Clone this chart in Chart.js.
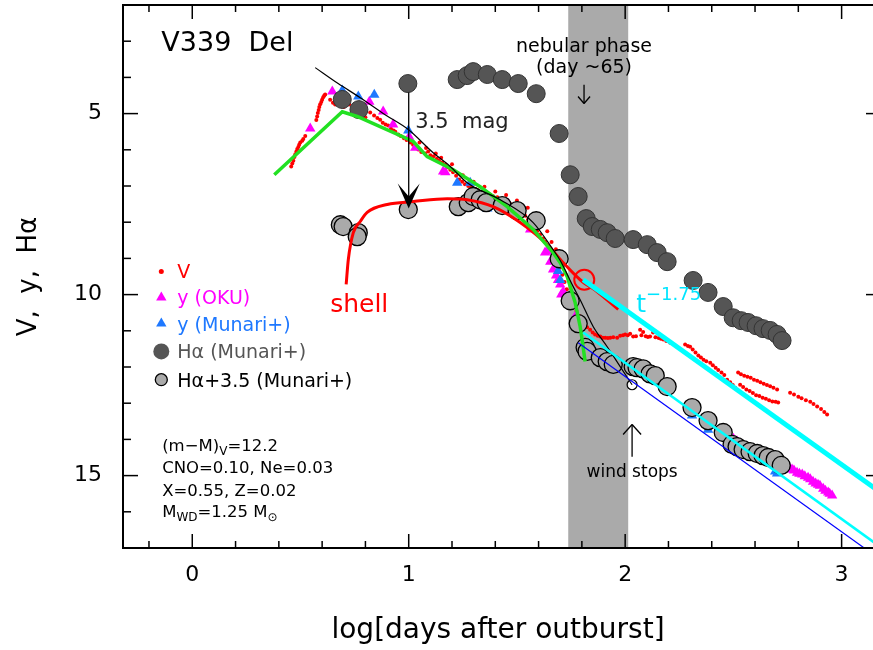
<!DOCTYPE html>
<html>
<head>
    <title>v339-del</title>
    <meta charset="utf-8">
    <script src="https://cdn.jsdelivr.net/npm/chart.js"></script>
    <style>
        body { margin: 0; background: #fff; }
        canvas { display: block; }
    </style>
</head>
<body>
    <canvas id="lc" width="873" height="650"></canvas>

    <script>
        // log t (days) vs. magnitude
        const vBand = [
            [0.457, 6.46], [0.462, 6.38], [0.467, 6.30], [0.472, 6.20], [0.476, 6.12], [0.481, 6.05], [0.485, 5.98],
            [0.490, 5.92], [0.494, 5.86], [0.499, 5.80], [0.508, 5.75], [0.513, 5.70], [0.522, 5.62],
            [0.573, 5.18], [0.577, 5.08], [0.580, 4.98], [0.584, 4.90], [0.587, 4.82], [0.591, 4.74], [0.596, 4.68],
            [0.600, 4.62], [0.605, 4.55], [0.610, 4.50], [0.614, 4.47],
            [0.637, 4.62], [0.650, 4.70], [0.660, 4.75], [0.672, 4.62], [0.690, 4.78], [0.700, 4.82], [0.712, 4.70],
            [0.725, 4.75], [0.740, 4.95], [0.750, 5.05], [0.762, 4.98], [0.775, 4.85], [0.790, 4.92], [0.800, 5.10],
            [0.822, 4.97], [0.840, 5.05], [0.855, 5.12], [0.868, 5.17], [0.880, 5.25], [0.893, 5.30], [0.905, 5.33],
            [0.918, 5.42], [0.930, 5.47], [0.938, 5.50], [0.952, 5.58], [0.963, 5.62], [0.978, 5.68], [0.990, 5.73],
            [1.007, 5.80], [1.020, 5.86], [1.032, 5.92], [1.044, 5.99], [1.058, 6.06], [1.076, 6.10], [1.090, 6.05],
            [1.100, 6.15], [1.115, 6.18], [1.130, 6.25], [1.140, 6.30], [1.155, 6.35], [1.169, 6.41], [1.180, 6.48],
            [1.192, 6.55], [1.205, 6.62], [1.219, 6.72], [1.233, 6.82], [1.247, 6.88], [1.260, 6.95], [1.275, 7.00],
            [1.290, 7.04], [1.307, 7.08], [1.320, 7.12], [1.339, 7.16], [1.355, 7.20], [1.376, 7.25], [1.390, 7.28],
            [1.409, 7.31], [1.420, 7.35], [1.436, 7.38], [1.450, 7.42], [1.469, 7.50], [1.483, 7.55], [1.497, 7.62],
            [1.510, 7.68], [1.524, 7.73], [1.538, 7.82], [1.552, 7.92], [1.566, 8.03], [1.580, 8.14], [1.593, 8.25],
            [1.607, 8.34], [1.620, 8.45], [1.630, 8.54], [1.642, 8.65], [1.654, 8.76], [1.667, 8.92], [1.677, 9.02],
            [1.686, 9.10],
            [1.050, 5.80], [1.080, 5.95], [1.125, 6.10], [1.150, 6.22], [1.200, 6.40], [1.250, 6.70], [1.300, 6.88],
            [1.350, 7.02], [1.400, 7.15], [1.450, 7.25], [1.500, 7.40], [1.550, 7.60], [1.600, 7.95], [1.640, 8.25],
            [1.660, 8.55], [1.680, 8.75], [1.695, 9.00],
            [1.700, 9.25], [1.710, 9.45], [1.720, 9.65], [1.730, 9.85], [1.745, 10.05], [1.760, 10.25], [1.775, 10.45],
            [1.790, 10.60], [1.806, 10.69], [1.815, 10.82], [1.824, 10.90], [1.838, 10.97], [1.850, 11.05], [1.861, 11.10],
            [1.873, 11.14], [1.885, 11.16], [1.897, 11.19], [1.908, 11.19], [1.920, 11.20], [1.931, 11.19], [1.945, 11.18],
            [1.963, 11.19], [1.977, 11.14], [1.990, 11.12], [2.000, 11.10], [2.012, 11.12], [2.023, 11.08], [2.037, 11.16],
            [2.050, 11.15], [2.069, 10.97], [2.075, 11.12], [2.083, 11.03], [2.095, 11.15], [2.105, 11.17], [2.115, 11.16],
            [2.129, 11.05], [2.140, 11.18], [2.155, 11.20], [2.165, 11.22], [2.176, 11.24], [2.190, 11.28], [2.208, 11.33],
            [2.277, 11.38], [2.290, 11.42], [2.300, 11.44], [2.312, 11.52], [2.325, 11.60], [2.338, 11.68], [2.350, 11.74],
            [2.362, 11.80], [2.375, 11.84], [2.393, 11.88], [2.405, 11.95], [2.418, 12.02], [2.430, 12.08], [2.445, 12.15],
            [2.458, 12.22], [2.471, 12.35], [2.485, 12.42], [2.497, 12.50], [2.508, 12.57],
            [2.531, 12.49], [2.545, 12.55], [2.560, 12.62], [2.575, 12.66], [2.590, 12.72], [2.605, 12.78], [2.620, 12.80],
            [2.635, 12.85], [2.650, 12.88], [2.665, 12.92], [2.680, 12.95], [2.695, 12.96], [2.707, 12.98],
            [2.522, 12.15], [2.535, 12.20], [2.550, 12.24], [2.565, 12.27], [2.580, 12.30], [2.595, 12.35], [2.610, 12.38],
            [2.625, 12.42], [2.640, 12.46], [2.655, 12.50], [2.670, 12.53], [2.685, 12.57], [2.702, 12.62],
            [2.762, 12.71], [2.780, 12.76], [2.800, 12.82], [2.815, 12.86], [2.835, 12.92], [2.855, 12.96], [2.870, 13.02],
            [2.887, 13.09], [2.905, 13.16], [2.920, 13.24], [2.933, 13.31]
        ];

        const yOku = [
            [0.545, 5.41], [0.647, 4.39], [0.818, 4.67], [0.882, 4.94], [0.928, 5.30], [1.002, 5.64], [1.030, 5.94],
            [1.159, 6.60], [1.169, 6.62], [1.460, 7.50], [1.561, 8.20], [1.630, 8.84], [1.663, 9.03],
            [1.640, 8.81], [1.654, 9.09], [1.667, 9.31], [1.681, 9.47], [1.690, 9.60], [1.700, 9.72], [1.705, 10.00],
            [1.714, 9.92], [1.737, 10.14], [1.769, 10.61],
            [1.820, 11.50], [2.083, 11.99], [2.100, 12.10], [2.130, 12.20], [2.160, 12.30],
            [2.309, 13.04], [2.383, 13.40],
            [2.500, 13.98], [2.517, 14.06], [2.530, 14.12], [2.545, 14.18], [2.560, 14.25], [2.575, 14.30], [2.590, 14.34],
            [2.605, 14.38], [2.620, 14.42], [2.635, 14.46], [2.650, 14.50], [2.665, 14.52], [2.680, 14.55], [2.695, 14.60],
            [2.710, 14.66], [2.720, 14.70], [2.735, 14.72], [2.748, 14.75], [2.760, 14.80], [2.771, 14.83], [2.780, 14.86],
            [2.794, 14.92], [2.805, 14.95], [2.818, 14.97], [2.830, 15.02], [2.845, 15.06], [2.855, 15.10], [2.868, 15.17],
            [2.880, 15.22], [2.891, 15.25], [2.900, 15.28], [2.915, 15.36], [2.925, 15.42], [2.938, 15.47], [2.945, 15.50],
            [2.956, 15.55]
        ];

        const yMunari = [
            [0.693, 4.36], [0.767, 4.53], [0.841, 4.48], [0.998, 5.47], [1.224, 6.91], [1.284, 6.91], [1.363, 7.62],
            [1.690, 9.35], [1.700, 9.60], [1.848, 11.46], [1.894, 11.88], [1.931, 11.99], [1.954, 11.93],
            [2.060, 12.00], [2.090, 12.05], [2.120, 12.15],
            [2.309, 13.34], [2.383, 13.73], [2.453, 13.95], [2.494, 14.09], [2.577, 14.39], [2.693, 14.89], [2.702, 14.94]
        ];

        const hAlpha = [
            [0.693, 4.61], [0.770, 4.89], [0.996, 4.17], [1.224, 4.06], [1.270, 3.95], [1.298, 3.84], [1.363, 3.92],
            [1.432, 4.06], [1.506, 4.17], [1.589, 4.45], [1.695, 5.55], [1.746, 6.69], [1.783, 7.29], [1.820, 7.90],
            [1.848, 8.12], [1.885, 8.20], [1.917, 8.29], [1.954, 8.45], [2.037, 8.48], [2.102, 8.62], [2.148, 8.84],
            [2.194, 9.09], [2.314, 9.61], [2.383, 9.94], [2.453, 10.33], [2.499, 10.64], [2.536, 10.72], [2.568, 10.77],
            [2.605, 10.86], [2.637, 10.94], [2.670, 10.99], [2.702, 11.10], [2.725, 11.27]
        ];

        // H-alpha shifted down by 3.5 mag
        const hAlphaShift = [
            [0.684, 8.07], [0.697, 8.12], [0.767, 8.29], [0.762, 8.40], [0.998, 7.65], [1.229, 7.57], [1.275, 7.46],
            [1.298, 7.29], [1.330, 7.38], [1.358, 7.46], [1.432, 7.54], [1.501, 7.68], [1.589, 7.96], [1.695, 9.01],
            [1.746, 10.17], [1.783, 10.80], [1.815, 11.46], [1.824, 11.57], [1.885, 11.74], [1.917, 11.85], [1.945, 11.93],
            [2.037, 11.99], [2.055, 12.02], [2.083, 12.05], [2.115, 12.19], [2.139, 12.24], [2.194, 12.54],
            [2.309, 13.12], [2.383, 13.48], [2.453, 13.81], [2.494, 14.14], [2.517, 14.20], [2.545, 14.28], [2.577, 14.34],
            [2.610, 14.39], [2.637, 14.45], [2.661, 14.50], [2.693, 14.56], [2.721, 14.72]
        ];

        // model curves
        const modelV = [
            [0.568, 3.73], [0.674, 4.17], [0.776, 4.56], [0.891, 5.03], [0.998, 5.44], [1.113, 6.08], [1.192, 6.46],
            [1.270, 6.91], [1.423, 7.38], [1.575, 8.01], [1.667, 8.76], [1.700, 9.06], [1.760, 9.78], [1.792, 10.14],
            [1.852, 10.88], [1.917, 11.44], [1.977, 11.99], [2.032, 12.49]
        ];
        const windStop = [[2.032, 12.49]];
        const shell = [
            [0.711, 9.72], [0.721, 9.03], [0.744, 8.29], [0.776, 7.98], [0.808, 7.73], [0.901, 7.51], [1.021, 7.43],
            [1.178, 7.35], [1.270, 7.38], [1.390, 7.57], [1.515, 8.01], [1.640, 8.62], [1.714, 9.12], [1.792, 9.59],
            [1.871, 9.92], [1.968, 10.41]
        ];
        const shellMark = [[1.811, 9.59]];
        const brokenLine = [
            [0.379, 6.69], [0.693, 4.95], [0.762, 5.08], [1.021, 5.77], [1.085, 6.19], [1.206, 6.55], [1.330, 7.02],
            [1.455, 7.57], [1.575, 8.20], [1.667, 8.84], [1.700, 9.12], [1.732, 9.50], [1.769, 10.22], [1.792, 10.88],
            [1.801, 11.24], [1.815, 11.85]
        ];
        const powerLaw = [[1.806, 9.59], [3.2, 15.55]];
        const powerLawLate = [[1.806, 11.05], [3.2, 17.06]];
        const blueLine = [[1.783, 11.33], [3.2, 17.41]];

        const nebularPhase = [1.737, 2.014];
        const xTickValues = [0, 1, 2, 3];
        const yTickValues = [5, 10, 15];

        const legendLabels = ['V', 'y (OKU)', 'y (Munari+)', 'H\u03b1 (Munari+)', 'H\u03b1+3.5 (Munari+)'];

        const FONT = '"DejaVu Sans", sans-serif';
        Chart.defaults.font.family = FONT;

        const pts = arr => arr.map(p => ({ x: p[0], y: p[1] }));

        function lineSet(arr, color, width, smooth) {
            return {
                data: pts(arr), showLine: true, borderColor: color, borderWidth: width,
                pointRadius: 0, pointHoverRadius: 0,
                cubicInterpolationMode: smooth ? 'monotone' : 'default'
            };
        }

        function markSet(arr, style, radius, fill, edge, edgeWidth) {
            return {
                data: pts(arr), showLine: false, pointStyle: style, pointRadius: radius, pointHoverRadius: radius,
                backgroundColor: fill, borderColor: edge, borderWidth: edgeWidth
            };
        }

        // axes sit flush with the plot box; the frame and ticks are drawn by hand
        function fixBox(s) {
            if (s.isHorizontal()) s.height = 102; else s.width = 123;
            s.paddingTop = 0;
            s.paddingBottom = 0;
            s.paddingLeft = 0;
            s.paddingRight = 0;
        }

        function text(ctx, s, x, y, size, color, align) {
            ctx.font = size + 'px ' + FONT;
            ctx.fillStyle = color;
            ctx.textAlign = align || 'left';
            ctx.textBaseline = 'alphabetic';
            ctx.fillText(s, x, y);
        }

        // text with sub/superscripts: parts = [[string, size, dy], ...]
        function runs(ctx, x, y, parts, color) {
            ctx.fillStyle = color;
            ctx.textAlign = 'left';
            ctx.textBaseline = 'alphabetic';
            let cx = x;
            for (const [s, size, dy] of parts) {
                ctx.font = size + 'px ' + FONT;
                ctx.fillText(s, cx, y + (dy || 0));
                cx += ctx.measureText(s).width;
            }
        }

        function seg(ctx, x0, y0, x1, y1) {
            ctx.beginPath();
            ctx.moveTo(x0, y0);
            ctx.lineTo(x1, y1);
            ctx.stroke();
        }

        const decor = {
            id: 'decor',
            beforeDatasetsDraw(chart) {
                const { ctx, chartArea: a, scales: { x } } = chart;
                const x0 = x.getPixelForValue(nebularPhase[0]);
                const x1 = x.getPixelForValue(nebularPhase[1]);
                ctx.save();
                ctx.fillStyle = '#aaaaaa';
                ctx.fillRect(x0, a.top, x1 - x0, a.bottom - a.top);
                ctx.restore();
            },
            afterDatasetsDraw(chart) {
                const { ctx, chartArea: a, scales: { x, y } } = chart;
                const X = v => x.getPixelForValue(v);
                const Y = v => y.getPixelForValue(v);
                ctx.save();

                // frame and inward ticks
                ctx.strokeStyle = '#000';
                ctx.lineWidth = 2;
                ctx.beginPath();
                ctx.moveTo(a.right + 2, a.top);
                ctx.lineTo(a.left, a.top);
                ctx.lineTo(a.left, a.bottom);
                ctx.lineTo(a.right + 2, a.bottom);
                ctx.stroke();
                ctx.lineWidth = 1.5;
                for (let k = -1; k <= 15; k++) {
                    const v = k * 0.2;
                    const px = X(v);
                    const len = k % 5 === 0 ? 14 : 7;
                    seg(ctx, px, a.bottom, px, a.bottom - len);
                    seg(ctx, px, a.top, px, a.top + len);
                }
                for (let v = 3; v <= 16; v++) {
                    const len = v % 5 === 0 ? 15 : 8;
                    seg(ctx, a.left, Y(v), a.left + len, Y(v));
                    if (v % 5 === 0) seg(ctx, a.right, Y(v), a.right - 7, Y(v));
                }

                // 3.5 mag shift arrow
                ctx.lineWidth = 1.3;
                const ax = X(1.0), tip = Y(7.62);
                seg(ctx, ax, Y(4.17) + 9, ax, tip - 10);
                ctx.fillStyle = '#000';
                ctx.beginPath();
                ctx.moveTo(ax, tip);
                ctx.lineTo(ax - 11, tip - 25);
                ctx.lineTo(ax, tip - 12);
                ctx.lineTo(ax + 11, tip - 25);
                ctx.closePath();
                ctx.fill();
                text(ctx, '3.5  mag', X(1.03), Y(5.39), 21, '#222');

                // nebular phase marker
                const nx = X(1.81);
                text(ctx, 'nebular phase', nx, Y(3.31), 19, '#000', 'center');
                text(ctx, '(day ~65)', nx, Y(3.87), 19, '#000', 'center');
                ctx.lineWidth = 1.3;
                seg(ctx, nx, Y(4.20), nx, Y(4.72));
                seg(ctx, nx - 6, Y(4.72) - 7, nx, Y(4.72));
                seg(ctx, nx + 6, Y(4.72) - 7, nx, Y(4.72));

                // wind stops marker
                const wx = X(2.032);
                seg(ctx, wx, Y(14.48), wx, Y(13.59));
                seg(ctx, wx - 9, Y(13.59) + 10, wx, Y(13.59));
                seg(ctx, wx + 9, Y(13.59) + 10, wx, Y(13.59));
                text(ctx, 'wind stops', wx, Y(15.03), 17, '#000', 'center');

                text(ctx, 'V339  Del', X(-0.143), Y(3.26), 27, '#000');
                text(ctx, 'shell', X(0.637), Y(10.47), 25, '#ff0000');
                runs(ctx, X(2.051), Y(10.47), [['t', 25, 0], ['\u22121.75', 18, -12]], '#00e5ff');

                // legend
                const lx = X(-0.143), tx = X(-0.069);
                const rows = [9.36, 10.08, 10.80, 11.57, 12.35].map(Y);
                const colors = ['#ff0000', '#ff00ff', '#1e78ff', '#555555', '#000000'];
                ctx.fillStyle = '#ff0000';
                ctx.beginPath(); ctx.arc(lx, rows[0], 2.5, 0, Math.PI * 2); ctx.fill();
                [['#ff00ff', rows[1]], ['#1e78ff', rows[2]]].forEach(([c, ry]) => {
                    ctx.fillStyle = c;
                    ctx.beginPath();
                    ctx.moveTo(lx, ry - 6);
                    ctx.lineTo(lx + 5.2, ry + 3);
                    ctx.lineTo(lx - 5.2, ry + 3);
                    ctx.closePath();
                    ctx.fill();
                });
                ctx.fillStyle = '#555555';
                ctx.beginPath(); ctx.arc(lx, rows[3], 8, 0, Math.PI * 2); ctx.fill();
                ctx.fillStyle = '#aaaaaa';
                ctx.strokeStyle = '#000';
                ctx.lineWidth = 1.3;
                ctx.beginPath(); ctx.arc(lx, rows[4], 6, 0, Math.PI * 2); ctx.fill(); ctx.stroke();
                legendLabels.forEach((s, i) => text(ctx, s, tx, rows[i] + 7, 19, colors[i]));

                // model parameters
                const px0 = X(-0.139);
                runs(ctx, px0, Y(14.31), [['(m\u2212M)', 16.5], ['V', 12, 4], ['=12.2', 16.5]], '#000');
                text(ctx, 'CNO=0.10, Ne=0.03', px0, Y(14.94), 16.5, '#000');
                text(ctx, 'X=0.55, Z=0.02', px0, Y(15.55), 16.5, '#000');
                runs(ctx, px0, Y(16.13), [['M', 16.5], ['WD', 12, 4], ['=1.25 M', 16.5], ['\u2299', 12, 4]], '#000');

                ctx.restore();
            }
        };

        new Chart(document.getElementById('lc'), {
            type: 'scatter',
            data: {
                datasets: [
                    lineSet(powerLawLate, '#00ffff', 2.5),
                    lineSet(powerLaw, '#00ffff', 5),
                    lineSet(blueLine, '#0000ff', 1.2),
                    lineSet(modelV, '#000000', 1.2, true),
                    markSet(windStop, 'circle', 5, 'rgba(255,255,255,0)', '#000', 1.2),
                    markSet(shellMark, 'circle', 10, 'rgba(255,255,255,0)', '#ff0000', 2),
                    lineSet(brokenLine, '#22e022', 3.5),
                    lineSet(shell, '#ff0000', 3, true),
                    markSet(hAlphaShift, 'circle', 9, '#aaaaaa', '#000000', 1.3),
                    markSet(hAlpha, 'circle', 9, '#555555', '#333333', 1),
                    markSet(yMunari, 'triangle', 6, '#1e78ff', '#1e78ff', 0),
                    markSet(yOku, 'triangle', 6, '#ff00ff', '#ff00ff', 0),
                    markSet(vBand, 'circle', 2, '#ff0000', '#ff0000', 0)
                ]
            },
            options: {
                responsive: false,
                animation: false,
                layout: { autoPadding: false, padding: { top: 5, right: 0, left: 0, bottom: 0 } },
                plugins: { legend: { display: false }, tooltip: { enabled: false } },
                scales: {
                    x: {
                        type: 'linear', min: -0.32, max: 3.145,
                        afterBuildTicks: s => { s.ticks = xTickValues.map(v => ({ value: v })); },
                        afterFit: fixBox,
                        grid: { display: false, drawTicks: false },
                        border: { display: false },
                        ticks: { color: '#000', font: { size: 22 }, padding: 14, maxRotation: 0, callback: v => String(v) },
                        title: { display: true, text: 'log[days after outburst]', color: '#000', font: { size: 28 }, padding: { top: 0, bottom: 2 } }
                    },
                    y: {
                        type: 'linear', min: 2, max: 17, reverse: true,
                        afterBuildTicks: s => { s.ticks = yTickValues.map(v => ({ value: v })); },
                        afterFit: fixBox,
                        grid: { display: false, drawTicks: false },
                        border: { display: false },
                        ticks: { color: '#000', font: { size: 22 }, padding: 21, callback: v => String(v) },
                        title: { display: true, text: 'V,  y,  H\u03b1', color: '#000', font: { size: 26 }, padding: { top: 14 } }
                    }
                }
            },
            plugins: [decor]
        });
    </script>
</body>
</html>
